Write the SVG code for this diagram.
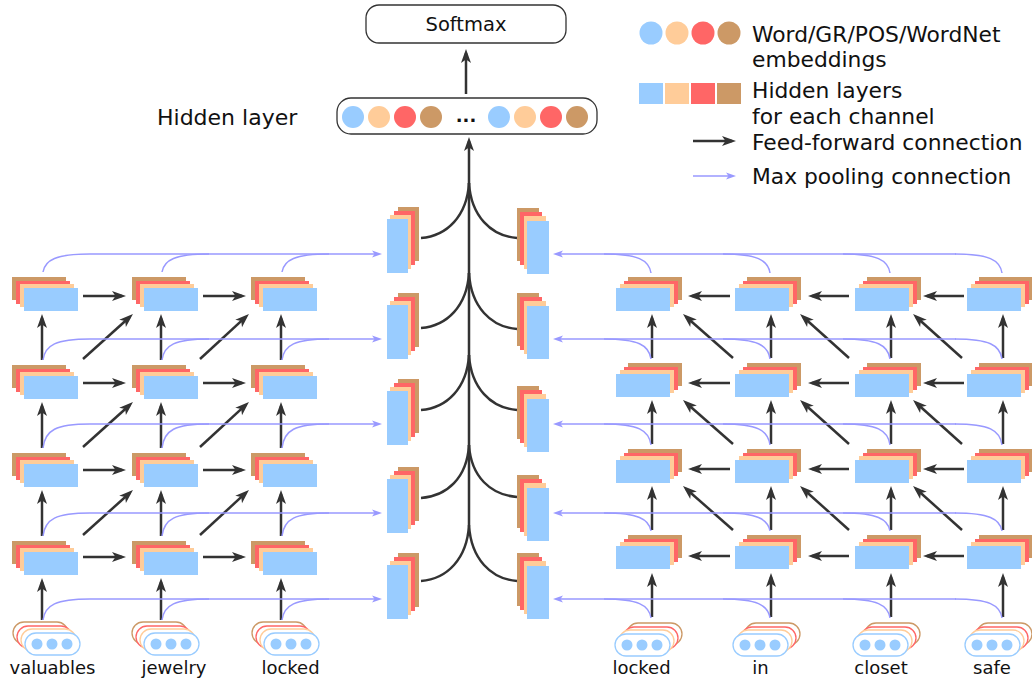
<svg xmlns="http://www.w3.org/2000/svg" xmlns:xlink="http://www.w3.org/1999/xlink" width="1032" height="682" viewBox="0 0 1032 682">
<style>
text{font-family:"DejaVu Sans","Noto Sans",sans-serif;fill:#111}
.lg{font-size:21.8px}
.wd{font-size:18px;text-anchor:middle}
.ff{fill:none;stroke:#333;stroke-width:2.5;marker-end:url(#ah)}
.cv{fill:none;stroke:#333;stroke-width:2.5}
.pl{fill:none;stroke:#9999ff;stroke-width:1.5}
.pa{fill:none;stroke:#9999ff;stroke-width:1.5;marker-end:url(#ap)}
.b{fill:#99ccff}.p{fill:#ffcc99}.r{fill:#ff6666}.n{fill:#cc9966}
.bx{fill:#fff;stroke:#333;stroke-width:1.3}
.po{fill:#fff;stroke-width:1.3}
</style>
<defs>
<marker id="ah" markerUnits="userSpaceOnUse" markerWidth="15" markerHeight="11" refX="10" refY="5" orient="auto" overflow="visible"><path d="M0,0 L14,5 L0,10 L3.5,5 Z" fill="#333"/></marker>
<marker id="ap" markerUnits="userSpaceOnUse" markerWidth="11" markerHeight="8" refX="7" refY="3.5" orient="auto" overflow="visible"><path d="M0,0 L10,3.5 L0,7 L2.5,3.5 Z" fill="#9999ff"/></marker>
<g id="hL"><rect class="n" x="0" y="0" width="54" height="23"/><rect class="r" x="4" y="4" width="54" height="23"/><rect class="p" x="8" y="7" width="54" height="23"/><rect class="b" x="12" y="11" width="54" height="23"/></g>
<g id="hR"><rect class="n" x="12" y="0" width="54" height="23"/><rect class="r" x="8" y="4" width="54" height="23"/><rect class="p" x="4" y="7" width="54" height="23"/><rect class="b" x="0" y="11" width="54" height="23"/></g>
<g id="vL"><rect class="n" x="11" y="-12" width="21" height="54"/><rect class="r" x="7" y="-8" width="21" height="54"/><rect class="p" x="3" y="-4" width="21" height="54"/><rect class="b" x="0" y="0" width="21" height="54"/></g>
<g id="vR"><rect class="n" x="-10" y="-13" width="22" height="53"/><rect class="r" x="-7" y="-9" width="22" height="53"/><rect class="p" x="-3" y="-5" width="22" height="53"/><rect class="b" x="0" y="0" width="22" height="53"/></g>
<g id="pL"><rect class="po" stroke="#cc9966" x="-12" y="-11" width="55" height="22" rx="11"/><rect class="po" stroke="#ff6666" x="-8" y="-7" width="55" height="22" rx="11"/><rect class="po" stroke="#ffcc99" x="-4" y="-4" width="55" height="22" rx="11"/><rect class="po" stroke="#99ccff" x="0" y="0" width="55" height="22" rx="11"/><circle class="b" cx="12" cy="11" r="5.5"/><circle class="b" cx="27" cy="11" r="5.5"/><circle class="b" cx="42" cy="11" r="5.5"/></g>
<g id="pR"><rect class="po" stroke="#cc9966" x="12" y="-11" width="55" height="22" rx="11"/><rect class="po" stroke="#ff6666" x="8" y="-7" width="55" height="22" rx="11"/><rect class="po" stroke="#ffcc99" x="4" y="-4" width="55" height="22" rx="11"/><rect class="po" stroke="#99ccff" x="0" y="0" width="55" height="22" rx="11"/><circle class="b" cx="12" cy="11" r="5.5"/><circle class="b" cx="27" cy="11" r="5.5"/><circle class="b" cx="42" cy="11" r="5.5"/></g>
</defs>
<rect width="1032" height="682" fill="#fff"/>

<g id="legend">
<circle class="b" cx="651" cy="33" r="11.5"/><circle class="p" cx="677" cy="33" r="11.5"/><circle class="r" cx="703" cy="33" r="11.5"/><circle class="n" cx="729" cy="33" r="11.5"/>
<text class="lg" x="752" y="42">Word/GR/POS/WordNet</text>
<text class="lg" x="752" y="67">embeddings</text>
<rect class="b" x="639" y="83" width="24" height="21"/><rect class="p" x="665" y="83" width="24" height="21"/><rect class="r" x="691" y="83" width="24" height="21"/><rect class="n" x="717" y="83" width="24" height="21"/>
<text class="lg" x="752" y="98">Hidden layers</text>
<text class="lg" x="752" y="124">for each channel</text>
<path class="ff" d="M693,141 H732"/>
<text class="lg" x="752" y="150">Feed-forward connection</text>
<path class="pa" d="M693,176 H733"/>
<text class="lg" x="752" y="184">Max pooling connection</text>
</g>

<g id="softmax"><rect class="bx" x="366" y="5" width="200" height="38" rx="13"/><text x="466" y="31" font-size="19.5" text-anchor="middle">Softmax</text></g>
<g id="hidden">
<text x="157" y="125" font-size="22">Hidden layer</text>
<rect class="bx" x="337" y="98" width="260" height="36" rx="14"/>
<circle class="b" cx="353" cy="117" r="11"/><circle class="p" cx="379" cy="117" r="11"/><circle class="r" cx="405" cy="117" r="11"/><circle class="n" cx="431" cy="117" r="11"/>
<text x="466" y="122" font-size="18" font-weight="bold" text-anchor="middle">...</text>
<circle class="b" cx="499" cy="117" r="11"/><circle class="p" cx="525" cy="117" r="11"/><circle class="r" cx="551" cy="117" r="11"/><circle class="n" cx="577" cy="117" r="11"/>
</g>

<g id="connectors">
<path class="ff" d="M466,94 V53"/>
<path class="ff" d="M469,525 V141"/>
<path class="cv" d="M421,238 C447,236 467,216 469,183 M421,328 C447,326 467,306 469,273 M421,410 C447,408 467,388 469,355 M421,498 C447,496 467,478 469,445 M421,581 C447,579 467,559 469,525"/>
<path class="cv" d="M517,238 C491,236 471,216 469,183 M517,329 C491,327 471,307 469,273 M517,410 C491,408 471,388 469,355 M517,497 C491,495 471,477 469,445 M517,581 C491,579 471,559 469,525"/>

<path class="ff" d="M42,620 V582"/><path class="ff" d="M161,620 V582"/><path class="ff" d="M281,620 V582"/>
<path class="ff" d="M42,536 V494"/><path class="ff" d="M161,536 V494"/><path class="ff" d="M281,536 V494"/>
<path class="ff" d="M42,448 V406"/><path class="ff" d="M161,448 V406"/><path class="ff" d="M281,448 V406"/>
<path class="ff" d="M42,360 V318"/><path class="ff" d="M161,360 V318"/><path class="ff" d="M281,360 V318"/>
<path class="ff" d="M83,296 H122"/><path class="ff" d="M203,296 H242"/>
<path class="ff" d="M83,383 H122"/><path class="ff" d="M203,383 H242"/>
<path class="ff" d="M83,470 H122"/><path class="ff" d="M203,470 H242"/>
<path class="ff" d="M83,557 H122"/><path class="ff" d="M203,557 H242"/>
<path class="ff" d="M83,359 L130,316.7"/><path class="ff" d="M200,359 L246,316.7"/>
<path class="ff" d="M83,447 L130,404.7"/><path class="ff" d="M200,447 L246,404.7"/>
<path class="ff" d="M83,535 L130,492.7"/><path class="ff" d="M200,535 L246,492.7"/>

<path class="ff" d="M652,617 V577"/><path class="ff" d="M771,617 V577"/><path class="ff" d="M891,617 V577"/><path class="ff" d="M1003,617 V577"/>
<path class="ff" d="M652,530 V490"/><path class="ff" d="M771,530 V490"/><path class="ff" d="M891,530 V490"/><path class="ff" d="M1003,530 V490"/>
<path class="ff" d="M652,444 V404"/><path class="ff" d="M771,444 V404"/><path class="ff" d="M891,444 V404"/><path class="ff" d="M1003,444 V404"/>
<path class="ff" d="M652,358 V318"/><path class="ff" d="M771,358 V318"/><path class="ff" d="M891,358 V318"/><path class="ff" d="M1003,358 V318"/>
<path class="ff" d="M730,296 H692"/><path class="ff" d="M849,296 H812"/><path class="ff" d="M964,296 H927"/>
<path class="ff" d="M730,383 H692"/><path class="ff" d="M849,383 H812"/><path class="ff" d="M964,383 H927"/>
<path class="ff" d="M730,469 H692"/><path class="ff" d="M849,469 H812"/><path class="ff" d="M964,469 H927"/>
<path class="ff" d="M730,556 H692"/><path class="ff" d="M849,556 H812"/><path class="ff" d="M964,556 H927"/>
<path class="ff" d="M733,358 L686,316.7"/><path class="ff" d="M849,358 L803,316.7"/><path class="ff" d="M962,358 L916,316.7"/>
<path class="ff" d="M733,444 L686,402.7"/><path class="ff" d="M849,444 L803,402.7"/><path class="ff" d="M962,444 L916,402.7"/>
<path class="ff" d="M733,530 L686,488.7"/><path class="ff" d="M849,530 L803,488.7"/><path class="ff" d="M962,530 L916,488.7"/>

<path class="pa" d="M90,254 H379"/><path class="pa" d="M90,339 H379"/><path class="pa" d="M90,424 H379"/><path class="pa" d="M90,513 H379"/><path class="pa" d="M90,599 H379"/>
<path class="pl" d="M43,272 C45,260 56,254 90,254 M162,272 C164,260 175,254 209,254 M282,272 C284,260 295,254 329,254"/>
<path class="pl" d="M43,360 C45,345 56,339 90,339 M162,360 C164,345 175,339 209,339 M282,360 C284,345 295,339 329,339"/>
<path class="pl" d="M43,448 C45,430 56,424 90,424 M162,448 C164,430 175,424 209,424 M282,448 C284,430 295,424 329,424"/>
<path class="pl" d="M43,536 C45,519 56,513 90,513 M162,536 C164,519 175,513 209,513 M282,536 C284,519 295,513 329,513"/>
<path class="pl" d="M43,620 C45,605 56,599 90,599 M162,620 C164,605 175,599 209,599 M282,620 C284,605 295,599 329,599"/>

<path class="pa" d="M956,254 H556"/><path class="pa" d="M956,339 H556"/><path class="pa" d="M956,424 H556"/><path class="pa" d="M956,513 H556"/><path class="pa" d="M956,599 H556"/>
<path class="pl" d="M651,273 C649,260 638,254 604,254 M770,273 C768,260 757,254 723,254 M890,273 C888,260 877,254 843,254 M1002,273 C1000,260 989,254 955,254"/>
<path class="pl" d="M651,359 C649,345 638,339 604,339 M770,359 C768,345 757,339 723,339 M890,359 C888,345 877,339 843,339 M1002,359 C1000,345 989,339 955,339"/>
<path class="pl" d="M651,445 C649,430 638,424 604,424 M770,445 C768,430 757,424 723,424 M890,445 C888,430 877,424 843,424 M1002,445 C1000,430 989,424 955,424"/>
<path class="pl" d="M651,531 C649,519 638,513 604,513 M770,531 C768,519 757,513 723,513 M890,531 C888,519 877,513 843,513 M1002,531 C1000,519 989,513 955,513"/>
<path class="pl" d="M651,618 C649,605 638,599 604,599 M770,618 C768,605 757,599 723,599 M890,618 C888,605 877,599 843,599 M1002,618 C1000,605 989,599 955,599"/>
</g>

<g id="poolL1"><use href="#vL" x="387" y="219"/></g>
<g id="poolL2"><use href="#vL" x="387" y="305"/></g>
<g id="poolL3"><use href="#vL" x="387" y="391"/></g>
<g id="poolL4"><use href="#vL" x="387" y="479"/></g>
<g id="poolL5"><use href="#vL" x="387" y="565"/></g>
<g id="poolR1"><use href="#vR" x="527" y="221"/></g>
<g id="poolR2"><use href="#vR" x="527" y="306"/></g>
<g id="poolR3"><use href="#vR" x="527" y="399"/></g>
<g id="poolR4"><use href="#vR" x="527" y="488"/></g>
<g id="poolR5"><use href="#vR" x="527" y="566"/></g>

<g id="L1c1"><use href="#hL" x="12" y="277"/></g><g id="L1c2"><use href="#hL" x="132" y="277"/></g><g id="L1c3"><use href="#hL" x="251" y="277"/></g>
<g id="L2c1"><use href="#hL" x="12" y="365"/></g><g id="L2c2"><use href="#hL" x="132" y="365"/></g><g id="L2c3"><use href="#hL" x="251" y="365"/></g>
<g id="L3c1"><use href="#hL" x="12" y="453"/></g><g id="L3c2"><use href="#hL" x="132" y="453"/></g><g id="L3c3"><use href="#hL" x="251" y="453"/></g>
<g id="L4c1"><use href="#hL" x="12" y="541"/></g><g id="L4c2"><use href="#hL" x="132" y="541"/></g><g id="L4c3"><use href="#hL" x="251" y="541"/></g>

<g id="R1c1"><use href="#hR" x="616" y="277"/></g><g id="R1c2"><use href="#hR" x="735" y="277"/></g><g id="R1c3"><use href="#hR" x="855" y="277"/></g><g id="R1c4"><use href="#hR" x="967" y="277"/></g>
<g id="R2c1"><use href="#hR" x="616" y="363"/></g><g id="R2c2"><use href="#hR" x="735" y="363"/></g><g id="R2c3"><use href="#hR" x="855" y="363"/></g><g id="R2c4"><use href="#hR" x="967" y="363"/></g>
<g id="R3c1"><use href="#hR" x="616" y="449"/></g><g id="R3c2"><use href="#hR" x="735" y="449"/></g><g id="R3c3"><use href="#hR" x="855" y="449"/></g><g id="R3c4"><use href="#hR" x="967" y="449"/></g>
<g id="R4c1"><use href="#hR" x="616" y="535"/></g><g id="R4c2"><use href="#hR" x="735" y="535"/></g><g id="R4c3"><use href="#hR" x="855" y="535"/></g><g id="R4c4"><use href="#hR" x="967" y="535"/></g>

<g id="in-valuables"><use href="#pL" x="25" y="633"/><text class="wd" x="52.5" y="674">valuables</text></g>
<g id="in-jewelry"><use href="#pL" x="144" y="633"/><text class="wd" x="174" y="674">jewelry</text></g>
<g id="in-locked-L"><use href="#pL" x="264" y="633"/><text class="wd" x="290.5" y="674">locked</text></g>
<g id="in-locked-R"><use href="#pR" x="615" y="634"/><text class="wd" x="641.5" y="674">locked</text></g>
<g id="in-in"><use href="#pR" x="733" y="634"/><text class="wd" x="760.5" y="674">in</text></g>
<g id="in-closet"><use href="#pR" x="853" y="634"/><text class="wd" x="881" y="674">closet</text></g>
<g id="in-safe"><use href="#pR" x="965" y="634"/><text class="wd" x="992" y="674">safe</text></g>
</svg>
